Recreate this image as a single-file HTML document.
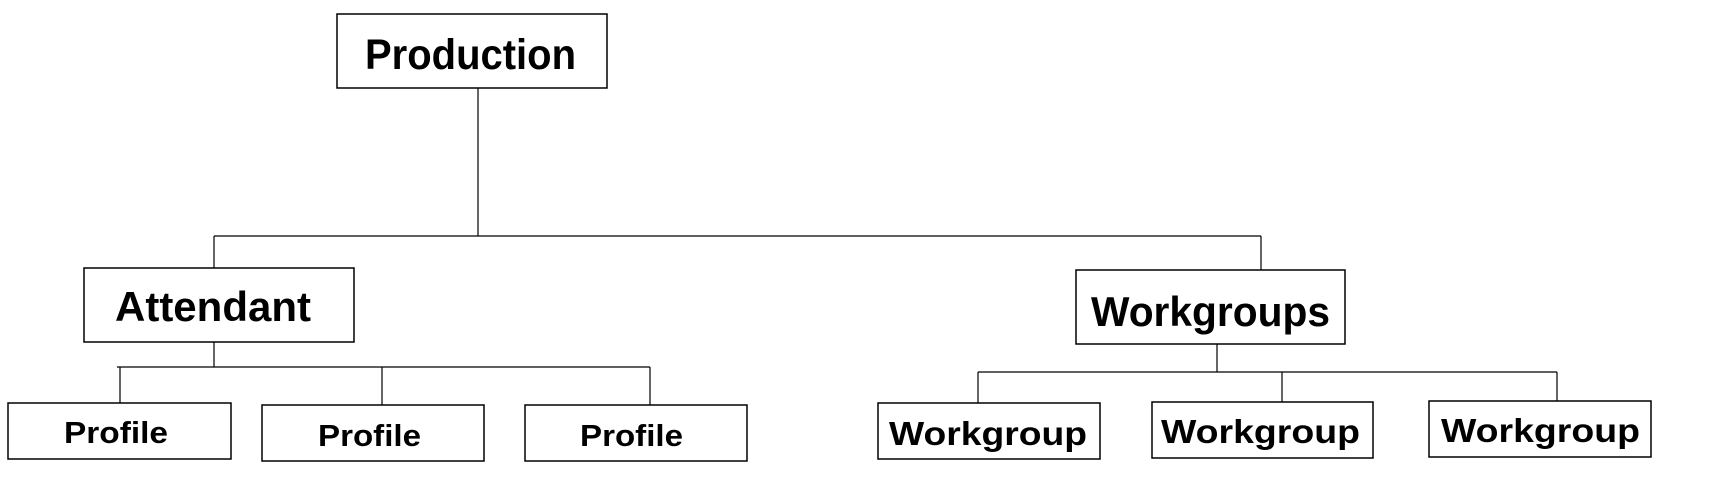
<!DOCTYPE html>
<html><head><meta charset="utf-8"><style>html,body{margin:0;padding:0;background:#fff}svg{display:block}</style></head>
<body>
<svg width="1714" height="503" viewBox="0 0 1714 503" xmlns="http://www.w3.org/2000/svg" font-family="Liberation Sans, Arial, sans-serif" font-weight="bold" fill="#000">
<g fill="none" stroke="#000" stroke-width="1.5">
<rect x="337" y="14" width="270" height="74"/>
<rect x="84" y="268" width="270" height="74"/>
<rect x="1076" y="270" width="269" height="74"/>
<rect x="8" y="403" width="223" height="56"/>
<rect x="262" y="405" width="222" height="56"/>
<rect x="525" y="405" width="222" height="56"/>
<rect x="878" y="403" width="222" height="56"/>
<rect x="1152" y="402" width="221" height="56"/>
<rect x="1429" y="401" width="222" height="56"/>
</g>
<g stroke="#000" stroke-width="1.2" fill="none">
<line x1="478" y1="88" x2="478" y2="236"/>
<line x1="214" y1="236" x2="1261" y2="236"/>
<line x1="214" y1="236" x2="214" y2="268"/>
<line x1="1261" y1="236" x2="1261" y2="270"/>
<line x1="214" y1="342" x2="214" y2="367"/>
<line x1="117" y1="367" x2="650" y2="367"/>
<line x1="120" y1="367" x2="120" y2="403"/>
<line x1="382" y1="367" x2="382" y2="405"/>
<line x1="650" y1="367" x2="650" y2="405"/>
<line x1="1217" y1="344" x2="1217" y2="372"/>
<line x1="978" y1="372" x2="1557" y2="372"/>
<line x1="978" y1="372" x2="978" y2="403"/>
<line x1="1282" y1="372" x2="1282" y2="402"/>
<line x1="1557" y1="372" x2="1557" y2="401"/>
</g>
<text x="365" y="69" font-size="43" textLength="211" lengthAdjust="spacingAndGlyphs">Production</text>
<text x="115" y="321" font-size="42" textLength="196" lengthAdjust="spacingAndGlyphs">Attendant</text>
<text x="1091" y="326" font-size="42" textLength="239" lengthAdjust="spacingAndGlyphs">Workgroups</text>
<text x="64" y="443" font-size="31" textLength="104" lengthAdjust="spacingAndGlyphs">Profile</text>
<text x="318" y="446" font-size="31" textLength="103" lengthAdjust="spacingAndGlyphs">Profile</text>
<text x="580" y="446" font-size="31" textLength="103" lengthAdjust="spacingAndGlyphs">Profile</text>
<text x="889" y="445" font-size="33" textLength="198" lengthAdjust="spacingAndGlyphs">Workgroup</text>
<text x="1161" y="443" font-size="33" textLength="199" lengthAdjust="spacingAndGlyphs">Workgroup</text>
<text x="1441" y="442" font-size="33" textLength="199" lengthAdjust="spacingAndGlyphs">Workgroup</text>
</svg>
</body></html>
